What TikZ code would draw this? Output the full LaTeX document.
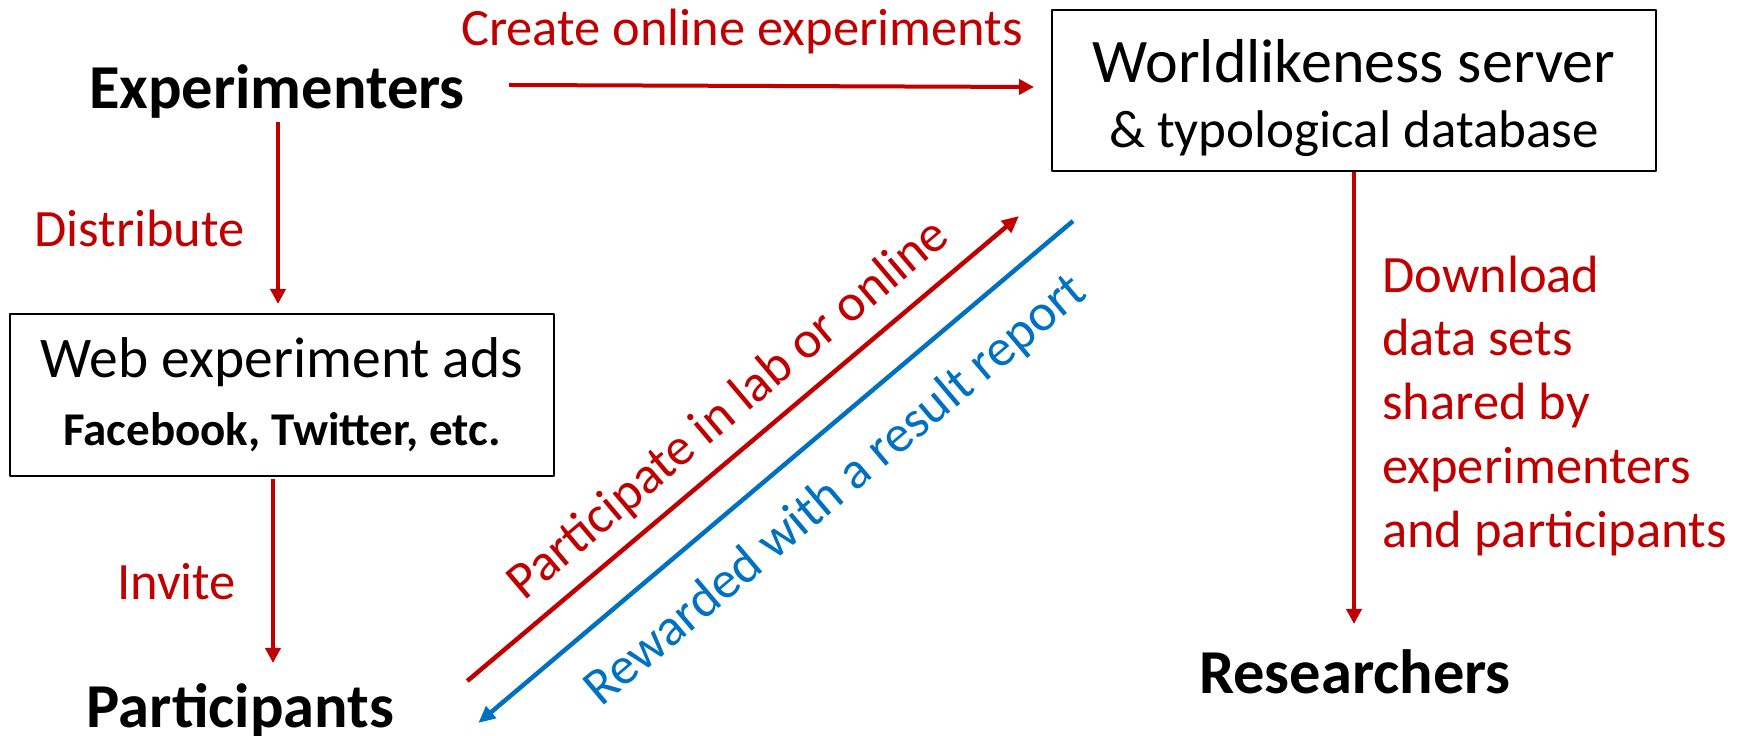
\documentclass[tikz,border=0pt]{standalone}
\usepackage{fontspec}
\setmainfont{Carlito}
\usepackage{tikz}
\usetikzlibrary{arrows.meta}
\usetikzlibrary{positioning}
\usetikzlibrary{calc}
\definecolor{flowred}{RGB}{192,0,0}
\definecolor{flowblue}{RGB}{0,112,192}
\tikzset{
  actor/.style={inner sep=0pt, font=\fontsize{62.5bp}{75bp}\selectfont\bfseries},
  lbl/.style={inner sep=0pt, text=flowred, font=\fontsize{52.5bp}{63.75bp}\selectfont},
  box/.style={draw, line width=2bp, inner sep=0pt, align=center},
  flow/.style={-{Triangle[length=15bp,width=15bp]}, line width=4bp, draw=flowred},
  diag/.style={-{Triangle[length=17bp,width=15bp]}, line width=4.5bp}
}

\begin{document}
\begin{tikzpicture}[line join=bevel,]
\useasboundingbox (0bp,0bp) rectangle (1748bp,736bp);
%%
\node (exper) at (277.0bp,627.0bp) [actor,anchor=base] {Experimenters};
  \node (part) at (240.5bp,9.0bp) [actor,anchor=base] {Participants};
  \node (resr) at (1355.0bp,42.0bp) [actor,anchor=base] {Researchers};
  \node (server) at (1354.0bp,645.5bp) [box,minimum width=604bp,minimum height=161bp,
    font=\fontsize{53bp}{65bp}\selectfont]
    {\rule{0pt}{58.5bp}{\fontsize{62bp}{65bp}\selectfont Worldlikeness server}\\ \& typological database};
  \node (web) at (282.0bp,341.0bp) [box,minimum width=544bp,minimum height=162bp,
    font=\fontsize{47bp}{68bp}\selectfont]
    {{\fontsize{57.5bp}{68bp}\selectfont Web experiment ads}\\ \textbf{Facebook, Twitter, etc.}};
  \draw [flow] ($(exper.base east)+(44bp,24bp)$) -- ($(server.west)+(-17bp,3.5bp)$);
  \draw (461.0bp,690.0bp) node [lbl,anchor=base west] {Create online experiments};
  \draw [flow] ($(exper.base)+(1bp,-13bp)$) -- ($(exper.base |- web.north)+(1bp,9bp)$);
  \draw (34.0bp,489.0bp) node [lbl,anchor=base west] {Distribute};
  \draw [flow] ($(web.south)+(-9bp,-2bp)$) -- ($(web.south |- part.base)+(-9bp,64bp)$);
  \draw (117.0bp,136.0bp) node [lbl,anchor=base west] {Invite};
  \draw [flow] (server.south) -- ($(server.south |- resr.base)+(0bp,70bp)$);
  \draw (1382.0bp,480.5bp) node [lbl,anchor=north west,align=left]
    {Download\\ data sets\\ shared by\\ experimenters\\ and participants};
  \draw [diag,draw=flowred] ($(part.base east)+(73bp,46bp)$) -- ($(server.south west)+(-32bp,-44bp)$);
  \draw (729.0bp,326.0bp) node [lbl,rotate=40.2] {Participate in lab or online};
  \draw [diag,draw=flowblue] ($(server.south west)+(22bp,-49bp)$) -- ($(part.base east)+(84bp,4bp)$);
  \draw (836.0bp,245.0bp) node [lbl,text=flowblue,rotate=40.2] {Rewarded with a result report};
%
\end{tikzpicture}
\end{document}
